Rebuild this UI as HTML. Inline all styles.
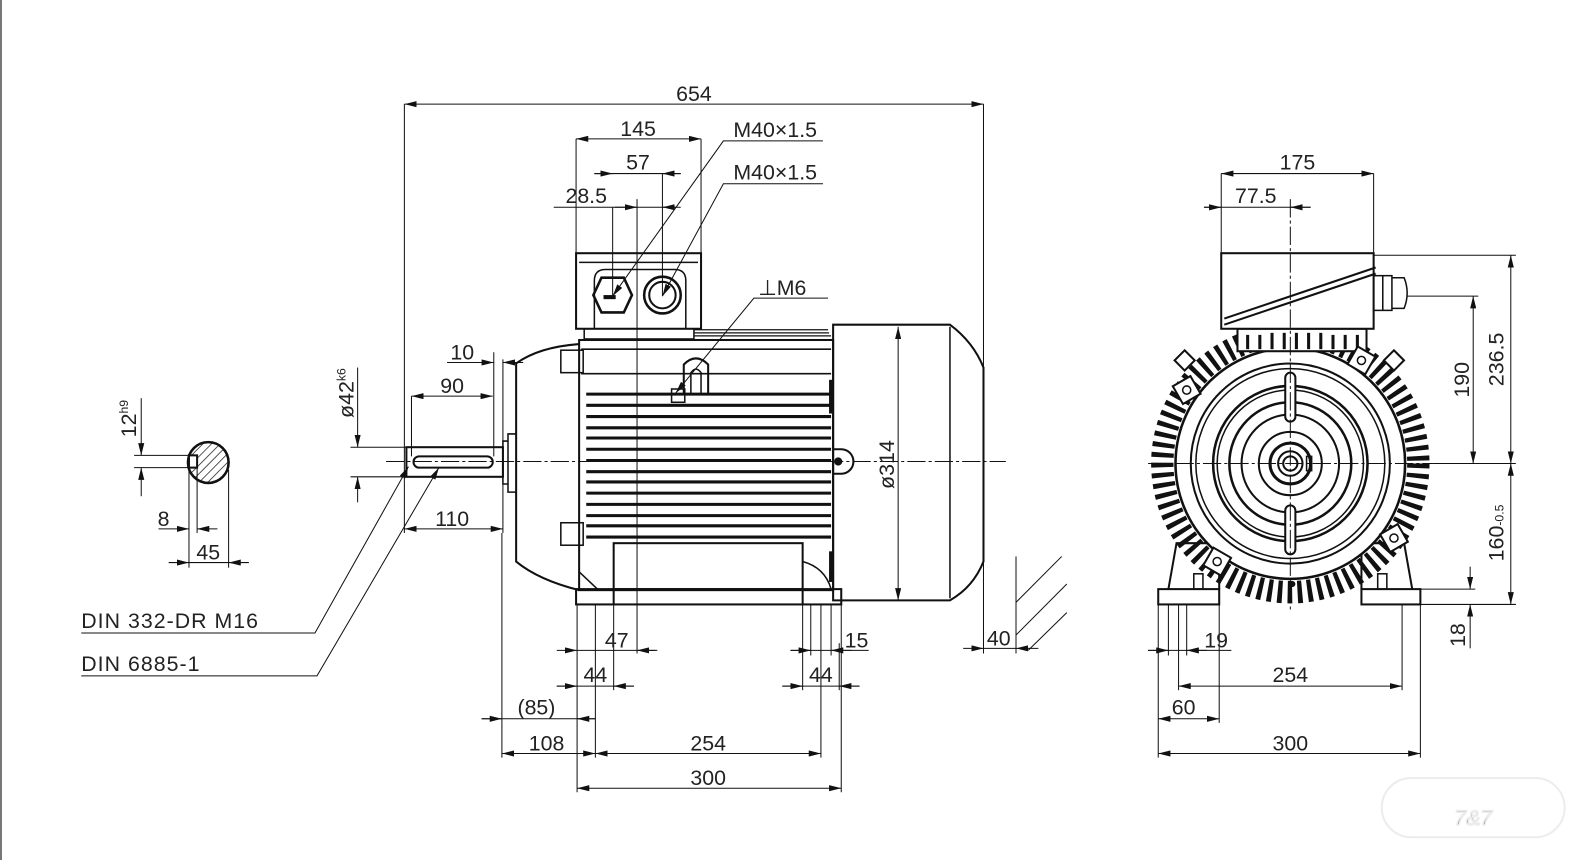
<!DOCTYPE html>
<html><head><meta charset="utf-8"><style>
html,body{margin:0;padding:0;background:#fff;}
svg{display:block;}
text{font-family:"Liberation Sans",sans-serif;font-size:21px;fill:#222;}
</style></head><body>
<svg width="1596" height="860" viewBox="0 0 1596 860" xmlns="http://www.w3.org/2000/svg">
<defs>
<marker id="a" viewBox="0 0 12 6" refX="12" refY="3" markerWidth="12" markerHeight="6" markerUnits="userSpaceOnUse" orient="auto-start-reverse"><path d="M0,0L12,3L0,6Z" fill="#111"/></marker>
<pattern id="hat" width="6" height="6" patternUnits="userSpaceOnUse" patternTransform="rotate(45)"><line x1="0" y1="0" x2="0" y2="6" stroke="#222" stroke-width="1.5"/></pattern>
</defs>
<rect x="0" y="0" width="2" height="860" fill="#777"/>
<g transform="scale(1.016,1.021)">
<!-- ================= SIDE VIEW ================= -->
<g fill="none" stroke="#111" stroke-width="2">
 <rect x="567" y="248" width="123" height="74"/>
 <line x1="570" y1="257" x2="687" y2="257" stroke-width="1.5"/>
 <path d="M585,322 V275 Q585,264 596,264 H664 Q675,264 675,275 V322" stroke-width="1.5"/>
 <polygon points="592,272 614,272 622,289 614,306 592,306 584,289" stroke-width="2.5"/>
 <circle cx="652" cy="289" r="18" stroke-width="2.5"/>
 <circle cx="652" cy="289" r="13" stroke-width="2"/>
 <line x1="594" y1="291" x2="606" y2="291" stroke-width="4"/>
 <rect x="575" y="322" width="108" height="10" stroke-width="1.5"/>
 <path d="M570,333 H820" />
 <g stroke-width="1.2"><line x1="683" y1="323" x2="815" y2="323"/><line x1="683" y1="326" x2="816" y2="326"/><line x1="683" y1="329" x2="818" y2="329"/></g>
 <rect x="570" y="333" width="250" height="245"/>
 <line x1="572" y1="342" x2="818" y2="342" stroke-width="1.5"/>
 <line x1="572" y1="366" x2="818" y2="366" stroke-width="1.5"/>
 <g stroke-width="3">
  <line x1="577" y1="386" x2="818" y2="386"/><line x1="577" y1="397" x2="818" y2="397"/>
  <line x1="577" y1="408" x2="818" y2="408"/><line x1="577" y1="419" x2="818" y2="419"/>
  <line x1="577" y1="429" x2="818" y2="429"/><line x1="577" y1="440" x2="818" y2="440"/>
  <line x1="577" y1="451" x2="818" y2="451"/><line x1="577" y1="462" x2="818" y2="462"/>
  <line x1="577" y1="472" x2="818" y2="472"/><line x1="577" y1="483" x2="818" y2="483"/>
  <line x1="577" y1="494" x2="818" y2="494"/><line x1="577" y1="505" x2="818" y2="505"/>
  <line x1="577" y1="515" x2="818" y2="515"/><line x1="577" y1="526" x2="818" y2="526"/>
 </g>
 <path d="M673,385 V357 Q685,345 697,357 V385" stroke-width="2"/>
 <path d="M680,385 V365 Q685,358 690,365 V385" stroke-width="1.5"/>
 <rect x="661" y="381" width="13" height="13" stroke-width="1.5"/>
 <rect x="552" y="343" width="22" height="22" stroke-width="1.5"/>
 <rect x="552" y="512" width="22" height="22" stroke-width="1.5"/>
 <path d="M570,337 Q530,340 508,356 V550 Q530,568 570,578" />
 <path d="M508,425 H500 V482 H508" stroke-width="1.5"/>
 <path d="M500,432 H495 V474 H500" stroke-width="1.5"/>
 <rect x="400" y="438" width="95" height="29"/>
 <rect x="407" y="447" width="78" height="11" rx="5.5"/>
 <rect x="604" y="532" width="186" height="45"/>
 <path d="M570,560 L588,577 M790,550 Q812,556 818,577" stroke-width="1.5"/>
 <rect x="567" y="577" width="261" height="15"/>
 <line x1="604" y1="577" x2="604" y2="592"/><line x1="790" y1="577" x2="790" y2="592"/>
 <path d="M820,318 H935 Q958,335 968,360 V550 Q958,575 935,588 H820 Z"/>
 <line x1="935" y1="320" x2="935" y2="586" stroke-width="1.5"/>
 <path d="M820,440 H828 A12,12 0 0 1 828,464 H820" stroke-width="2"/>
 <line x1="818" y1="372" x2="818" y2="405" stroke-width="4"/>
 <line x1="818" y1="540" x2="818" y2="570" stroke-width="4"/>
</g>
<circle cx="825" cy="452" r="4" fill="#111"/>
<g stroke="#111" stroke-width="1" fill="none">
 <line x1="380" y1="452" x2="990" y2="452" stroke-dasharray="18 3 3 3"/>
 <line x1="627" y1="195" x2="627" y2="640"/>
 <line x1="603" y1="203" x2="603" y2="290"/>
 <line x1="652" y1="170" x2="652" y2="290"/>
</g>
<g stroke="#111" stroke-width="1" fill="none">
 <line x1="398" y1="102" x2="398" y2="522"/>
 <line x1="968" y1="102" x2="968" y2="640"/>
 <line x1="398" y1="102" x2="968" y2="102" marker-start="url(#a)" marker-end="url(#a)"/>
 <line x1="567" y1="136" x2="567" y2="248"/><line x1="690" y1="136" x2="690" y2="248"/>
 <line x1="567" y1="136" x2="690" y2="136" marker-start="url(#a)" marker-end="url(#a)"/>
 <line x1="585" y1="170" x2="670" y2="170"/>
 <line x1="585" y1="170" x2="603" y2="170" marker-end="url(#a)"/>
 <line x1="670" y1="170" x2="652" y2="170" marker-end="url(#a)"/>
 <line x1="545" y1="203" x2="665" y2="203"/>
 <line x1="605" y1="203" x2="627" y2="203" marker-end="url(#a)"/>
 <line x1="670" y1="203" x2="652" y2="203" marker-end="url(#a)"/>
 <polyline points="810,138 712,138 603,290" marker-end="url(#a)"/>
 <polyline points="810,180 712,180 652,290" marker-end="url(#a)"/>
 <polyline points="815,292 742,292 665,385" marker-end="url(#a)"/>
 <line x1="486" y1="345" x2="486" y2="447"/><line x1="495" y1="352" x2="495" y2="522"/>
 <line x1="440" y1="355" x2="486" y2="355"/>
 <line x1="466" y1="355" x2="486" y2="355" marker-end="url(#a)"/>
 <line x1="515" y1="355" x2="495" y2="355" marker-end="url(#a)"/>
 <line x1="405" y1="388" x2="405" y2="447"/>
 <line x1="405" y1="388" x2="485" y2="388" marker-start="url(#a)" marker-end="url(#a)"/>
 <line x1="345" y1="438" x2="400" y2="438"/><line x1="345" y1="467" x2="400" y2="467"/>
 <line x1="352" y1="360" x2="352" y2="438" marker-end="url(#a)"/>
 <line x1="352" y1="492" x2="352" y2="467" marker-end="url(#a)"/>
 <line x1="398" y1="518" x2="495" y2="518" marker-start="url(#a)" marker-end="url(#a)"/>
 <line x1="884" y1="320" x2="884" y2="588" marker-start="url(#a)" marker-end="url(#a)"/>
 <line x1="1000" y1="545" x2="1000" y2="640"/>
 <line x1="948" y1="635" x2="968" y2="635" marker-end="url(#a)"/>
 <line x1="968" y1="635" x2="1000" y2="635"/>
 <line x1="1022" y1="635" x2="1000" y2="635" marker-end="url(#a)"/>
 <line x1="1000" y1="590" x2="1045" y2="545"/><line x1="1000" y1="622" x2="1050" y2="572"/><line x1="1012" y1="637" x2="1050" y2="600"/>
 <line x1="494" y1="522" x2="494" y2="742"/>
 <line x1="568" y1="592" x2="568" y2="776"/><line x1="828" y1="592" x2="828" y2="776"/>
 <line x1="586" y1="592" x2="586" y2="742"/><line x1="808" y1="592" x2="808" y2="742"/>
 <line x1="604" y1="592" x2="604" y2="676"/><line x1="790" y1="592" x2="790" y2="676"/>
 <line x1="798" y1="592" x2="798" y2="642"/><line x1="818" y1="592" x2="818" y2="642"/>
 <line x1="568" y1="637" x2="645" y2="637"/>
 <line x1="548" y1="637" x2="568" y2="637" marker-end="url(#a)"/>
 <line x1="647" y1="637" x2="627" y2="637" marker-end="url(#a)"/>
 <line x1="778" y1="637" x2="855" y2="637"/>
 <line x1="778" y1="637" x2="798" y2="637" marker-end="url(#a)"/>
 <line x1="838" y1="637" x2="818" y2="637" marker-end="url(#a)"/>
 <line x1="548" y1="672" x2="624" y2="672"/>
 <line x1="548" y1="672" x2="568" y2="672" marker-end="url(#a)"/>
 <line x1="624" y1="672" x2="604" y2="672" marker-end="url(#a)"/>
 <line x1="770" y1="672" x2="846" y2="672"/>
 <line x1="770" y1="672" x2="790" y2="672" marker-end="url(#a)"/>
 <line x1="846" y1="672" x2="826" y2="672" marker-end="url(#a)"/>
 <line x1="826" y1="630" x2="826" y2="676"/>
 <line x1="474" y1="704" x2="586" y2="704"/>
 <line x1="474" y1="704" x2="494" y2="704" marker-end="url(#a)"/>
 <line x1="586" y1="704" x2="568" y2="704" marker-end="url(#a)"/>
 <line x1="494" y1="738" x2="586" y2="738" marker-start="url(#a)" marker-end="url(#a)"/>
 <line x1="586" y1="738" x2="808" y2="738" marker-start="url(#a)" marker-end="url(#a)"/>
 <line x1="568" y1="772" x2="828" y2="772" marker-start="url(#a)" marker-end="url(#a)"/>
 <polyline points="80,620 310,620 402,457" marker-end="url(#a)"/>
 <polyline points="80,662 312,662 432,458" marker-end="url(#a)"/>
</g>
<circle cx="207" cy="462" r="20" fill="url(#hat)" stroke="#111" stroke-width="2.5" transform="translate(-2,-9)"/>
<rect x="186" y="446" width="8" height="12" fill="#fff" stroke="#111" stroke-width="2"/>
<g stroke="#111" stroke-width="1" fill="none">
 <line x1="132" y1="446" x2="190" y2="446"/><line x1="132" y1="458" x2="190" y2="458"/>
 <line x1="139" y1="390" x2="139" y2="446" marker-end="url(#a)"/>
 <line x1="139" y1="486" x2="139" y2="458" marker-end="url(#a)"/>
 <line x1="186" y1="458" x2="186" y2="556"/><line x1="194" y1="458" x2="194" y2="522"/><line x1="225" y1="460" x2="225" y2="556"/>
 <line x1="156" y1="518" x2="186" y2="518" marker-end="url(#a)"/>
 <line x1="214" y1="518" x2="194" y2="518" marker-end="url(#a)"/>
 <line x1="166" y1="551" x2="186" y2="551" marker-end="url(#a)"/>
 <line x1="186" y1="551" x2="225" y2="551"/>
 <line x1="245" y1="551" x2="225" y2="551" marker-end="url(#a)"/>
</g>
<g text-anchor="middle">
 <text x="683" y="99">654</text>
 <text x="628" y="133">145</text>
 <text x="628" y="166">57</text>
 <text x="577" y="199">28.5</text>
 <text x="763" y="134">M40×1.5</text>
 <text x="763" y="176">M40×1.5</text>
 <text x="770" y="289">⊥M6</text>
 <text x="455" y="352">10</text>
 <text x="445" y="385">90</text>
 <text x="445" y="515">110</text>
 <text x="983" y="632">40</text>
 <text x="607" y="634">47</text>
 <text x="843" y="634">15</text>
 <text x="586" y="668">44</text>
 <text x="808" y="668">44</text>
 <text x="528" y="700">(85)</text>
 <text x="538" y="735">108</text>
 <text x="697" y="735">254</text>
 <text x="697" y="769">300</text>
 <text x="161" y="515">8</text>
 <text x="205" y="548">45</text>
 <text transform="translate(880,455) rotate(-90)">ø314</text>
 <text transform="translate(348,385) rotate(-90)">ø42<tspan font-size="12" dy="-8">k6</tspan></text>
 <text transform="translate(134,410) rotate(-90)">12<tspan font-size="12" dy="-8">h9</tspan></text>
</g>
<text x="80" y="615" letter-spacing="1">DIN 332-DR M16</text>
<text x="80" y="657" letter-spacing="1">DIN 6885-1</text>

<!-- ================= FRONT VIEW ================= -->
<g fill="none" stroke="#111" stroke-width="2">
 <path d="M1150,577 L1158,532 H1200 V577"/>
 <path d="M1390,577 L1382,532 H1340 V577"/>
 <rect x="1140" y="577" width="60" height="15"/>
 <rect x="1340" y="577" width="58" height="15"/>
 <rect x="1175" y="562" width="9" height="15" stroke-width="1.5"/>
 <rect x="1356" y="562" width="9" height="15" stroke-width="1.5"/>
 <circle cx="1270" cy="454" r="126" stroke-width="22" stroke-dasharray="4.5 5.3" stroke="#111"/>
 <circle cx="1270" cy="454" r="113" fill="#fff" stroke-width="2.5"/>
 <rect x="1218" y="322" width="127" height="22" fill="#fff"/>
 <g stroke-width="3"><line x1="1228" y1="328" x2="1228" y2="342"/><line x1="1240" y1="328" x2="1240" y2="342"/><line x1="1252" y1="326" x2="1252" y2="342"/><line x1="1264" y1="326" x2="1264" y2="342"/><line x1="1276" y1="326" x2="1276" y2="342"/><line x1="1288" y1="326" x2="1288" y2="342"/><line x1="1300" y1="326" x2="1300" y2="342"/><line x1="1312" y1="328" x2="1312" y2="342"/><line x1="1324" y1="328" x2="1324" y2="342"/><line x1="1336" y1="328" x2="1336" y2="342"/></g>
 <rect x="1202" y="248" width="150" height="74" fill="#fff"/>
 <line x1="1205" y1="312" x2="1354" y2="262" stroke-width="2"/>
 <line x1="1205" y1="318" x2="1354" y2="268" stroke-width="2"/>
 <rect x="1352" y="270" width="18" height="34" stroke-width="1.5"/>
 <path d="M1370,272 H1382 Q1388,287 1382,302 H1370" stroke-width="1.5"/>
 <line x1="1361" y1="270" x2="1361" y2="304" stroke-width="1.5"/>
 <circle cx="1270" cy="454" r="98"/>
 <circle cx="1270" cy="454" r="93" stroke-width="1.5"/>
 <circle cx="1270" cy="454" r="76" stroke-width="2.5"/>
 <circle cx="1270" cy="454" r="72" stroke-width="1.5"/>
 <circle cx="1270" cy="454" r="60" stroke-width="2.5"/>
 <circle cx="1270" cy="454" r="48"/>
 <circle cx="1270" cy="454" r="31"/>
 <circle cx="1270" cy="454" r="20" stroke-width="3"/>
 <circle cx="1270" cy="454" r="12"/>
 <circle cx="1270" cy="454" r="7"/>
 <rect x="1286" y="447" width="5" height="14" stroke-width="1.5"/>
 <rect x="1265" y="365" width="10" height="48" rx="5" fill="#fff"/>
 <rect x="1265" y="495" width="10" height="48" rx="5" fill="#fff"/>
 <g stroke-width="2" fill="#fff">
  <rect x="-10" y="-10" width="20" height="20" transform="translate(1168,382) rotate(-30)"/>
  <rect x="-10" y="-10" width="20" height="20" transform="translate(1340,353) rotate(30)"/>
  <rect x="-10" y="-10" width="20" height="20" transform="translate(1198,550) rotate(30)"/>
  <rect x="-10" y="-10" width="20" height="20" transform="translate(1372,527) rotate(-30)"/>
  <rect x="-7" y="-7" width="14" height="14" transform="translate(1166,353) rotate(45)"/>
  <rect x="-7" y="-7" width="14" height="14" transform="translate(1372,353) rotate(45)"/>
 </g>
 <g stroke-width="1.5"><circle cx="1168" cy="382" r="4"/><circle cx="1340" cy="353" r="4"/><circle cx="1198" cy="550" r="4"/><circle cx="1372" cy="527" r="4"/></g>
</g>
<circle cx="1272" cy="572" r="3" fill="#111"/>
<g stroke="#111" stroke-width="1" fill="none">
 <line x1="1130" y1="454" x2="1410" y2="454" stroke-dasharray="18 3 3 3"/>
 <line x1="1270" y1="195" x2="1270" y2="600" stroke-dasharray="18 3 3 3"/>
 <line x1="1202" y1="170" x2="1202" y2="248"/><line x1="1352" y1="170" x2="1352" y2="248"/>
 <line x1="1202" y1="170" x2="1352" y2="170" marker-start="url(#a)" marker-end="url(#a)"/>
 <line x1="1185" y1="203" x2="1290" y2="203"/>
 <line x1="1185" y1="203" x2="1202" y2="203" marker-end="url(#a)"/>
 <line x1="1290" y1="203" x2="1270" y2="203" marker-end="url(#a)"/>
 <line x1="1352" y1="250" x2="1492" y2="250"/>
 <line x1="1385" y1="290" x2="1455" y2="290"/>
 <line x1="1410" y1="454" x2="1492" y2="454"/>
 <line x1="1398" y1="592" x2="1492" y2="592"/>
 <line x1="1398" y1="577" x2="1452" y2="577"/>
 <line x1="1450" y1="290" x2="1450" y2="454" marker-start="url(#a)" marker-end="url(#a)"/>
 <line x1="1487" y1="250" x2="1487" y2="454" marker-start="url(#a)" marker-end="url(#a)"/>
 <line x1="1487" y1="454" x2="1487" y2="592" marker-start="url(#a)" marker-end="url(#a)"/>
 <line x1="1447" y1="555" x2="1447" y2="577" marker-end="url(#a)"/>
 <line x1="1447" y1="635" x2="1447" y2="592" marker-end="url(#a)"/>
 <line x1="1140" y1="592" x2="1140" y2="742"/><line x1="1398" y1="592" x2="1398" y2="742"/>
 <line x1="1150" y1="592" x2="1150" y2="642"/><line x1="1160" y1="592" x2="1160" y2="676"/><line x1="1168" y1="592" x2="1168" y2="642"/>
 <line x1="1200" y1="592" x2="1200" y2="708"/><line x1="1380" y1="592" x2="1380" y2="676"/>
 <line x1="1130" y1="637" x2="1212" y2="637"/>
 <line x1="1130" y1="637" x2="1150" y2="637" marker-end="url(#a)"/>
 <line x1="1188" y1="637" x2="1168" y2="637" marker-end="url(#a)"/>
 <line x1="1160" y1="672" x2="1380" y2="672" marker-start="url(#a)" marker-end="url(#a)"/>
 <line x1="1140" y1="704" x2="1200" y2="704" marker-start="url(#a)" marker-end="url(#a)"/>
 <line x1="1140" y1="738" x2="1398" y2="738" marker-start="url(#a)" marker-end="url(#a)"/>
</g>
<g text-anchor="middle">
 <text x="1277" y="166">175</text>
 <text x="1236" y="199">77.5</text>
 <text x="1197" y="634">19</text>
 <text x="1270" y="668">254</text>
 <text x="1165" y="700">60</text>
 <text x="1270" y="735">300</text>
 <text transform="translate(1446,372) rotate(-90)">190</text>
 <text transform="translate(1480,352) rotate(-90)">236.5</text>
 <text transform="translate(1480,522) rotate(-90)">160<tspan font-size="12">-0.5</tspan></text>
 <text transform="translate(1442,622) rotate(-90)">18</text>
</g>
<g fill="none" stroke="#ececec" stroke-width="2">
 <rect x="1360" y="762" width="180" height="58" rx="29"/>
 <text x="1450" y="808" text-anchor="middle" font-size="40" font-style="italic" fill="none" stroke="#ececec" stroke-width="1.5">7&amp;7</text>
</g>
</g>
</svg>
</body></html>
